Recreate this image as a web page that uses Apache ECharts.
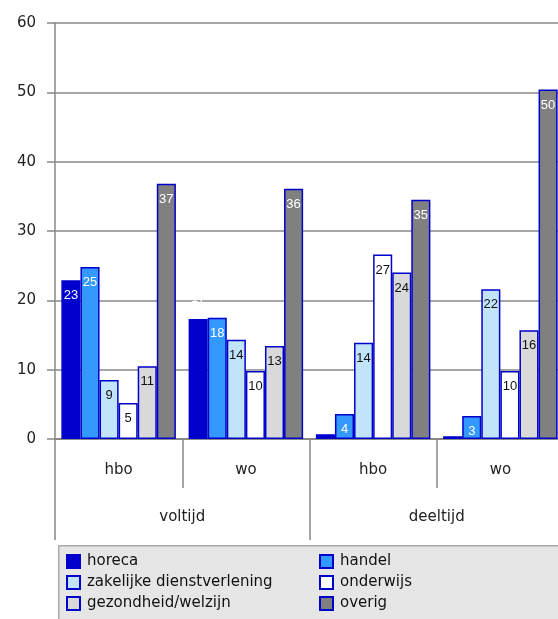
<!DOCTYPE html>
<html><head><meta charset="utf-8">
<script src="https://cdn.jsdelivr.net/npm/echarts@6/dist/echarts.min.js"></script>
<style>html,body{margin:0;padding:0;background:#fff;overflow:hidden}#c{width:564px;height:619px}</style>
</head><body><div id="c"></div>
<script>
const subCategories = ['hbo', 'wo', 'hbo', 'wo'];
const mainCategories = ['voltijd', 'deeltijd'];
const yTicks = [0, 10, 20, 30, 40, 50, 60];
const seriesNames = ['horeca', 'handel', 'zakelijke dienstverlening', 'onderwijs', 'gezondheid/welzijn', 'overig'];
const horeca = [22.9, 17.3, 0.7, 0.4];
const handel = [24.8, 17.5, 3.6, 3.3];
const zakelijke = [8.5, 14.3, 13.9, 21.6];
const onderwijs = [5.2, 9.8, 26.6, 9.8];
const gezondheid = [10.5, 13.4, 24.0, 15.7];
const overig = [36.8, 36.1, 34.5, 50.4];

const seriesData = [horeca, handel, zakelijke, onderwijs, gezondheid, overig];
const fills = ['#0000cc', '#3399ff', '#c2e4f8', '#ffffff', '#d9d9d9', '#808080'];
const labelColors = ['#ffffff', '#ffffff', '#111111', '#111111', '#111111', '#ffffff'];
const FONT = 'DejaVu Sans';
const LFONT = 'Liberation Sans';

const chart = echarts.init(document.getElementById('c'));
const series = seriesData.map((d, i) => ({
  name: seriesNames[i],
  type: 'bar',
  xAxisIndex: 0,
  data: d.map((v, j) => (i === 0 && j === 1)
    ? { value: v, label: { position: 'top', distance: 14 } }
    : v),
  barGap: 0,
  barCategoryGap: '10%',
  itemStyle: { color: fills[i], borderColor: '#0000cc', borderWidth: 1.5 },
  label: {
    show: true,
    position: 'insideTop',
    distance: 9,
    color: labelColors[i],
    fontFamily: LFONT,
    fontSize: 13,
    formatter: p => (i === 0 && p.dataIndex > 1) ? '' : String(Math.round(p.value))
  },
  emphasis: { disabled: true }
}));

chart.setOption({
  animation: false,
  textStyle: { fontFamily: FONT },
  grid: { left: 55, top: 23, right: 0, height: 416 },
  xAxis: [
    {
      type: 'category', data: subCategories, position: 'bottom',
      axisLine: { show: true, lineStyle: { color: '#888', width: 1.5 } },
      axisTick: { show: true, length: 49, lineStyle: { color: '#888', width: 1.5 } },
      axisLabel: { margin: 24, color: '#222', fontSize: 15, fontFamily: FONT },
      splitLine: { show: false }
    },
    {
      type: 'category', data: mainCategories, position: 'bottom',
      axisLine: { show: true, lineStyle: { color: '#888', width: 1.5 } },
      axisTick: { show: true, length: 101, lineStyle: { color: '#888', width: 1.5 } },
      axisLabel: { margin: 71, color: '#222', fontSize: 15, fontFamily: FONT },
      splitLine: { show: false }
    }
  ],
  yAxis: {
    type: 'value', min: yTicks[0], max: yTicks[yTicks.length - 1], interval: 10,
    axisLine: { show: true, lineStyle: { color: '#888', width: 1.5 } },
    axisTick: { show: true, length: 8, lineStyle: { color: '#888', width: 1.5 } },
    axisLabel: { margin: 19, color: '#222', fontSize: 15, fontFamily: FONT },
    splitLine: { show: true, lineStyle: { color: '#888', width: 1.5 } }
  },
  graphic: [{
    type: 'rect', left: 58, top: 545, z: -10,
    shape: { width: 510, height: 80 },
    style: { fill: '#e6e6e6', stroke: '#aaaaaa', lineWidth: 1.5 }
  }],
  legend: [
    {
      orient: 'vertical', left: 66, top: 554, itemWidth: 13, itemHeight: 13, itemGap: 6,
      icon: 'rect', data: [seriesNames[0], seriesNames[2], seriesNames[4]],
      textStyle: { fontSize: 15, color: '#111', fontFamily: FONT, padding: [0, 0, 0, 2] },
      selectedMode: false, padding: 0
    },
    {
      orient: 'vertical', left: 319, top: 554, itemWidth: 13, itemHeight: 13, itemGap: 6,
      icon: 'rect', data: [seriesNames[1], seriesNames[3], seriesNames[5]],
      textStyle: { fontSize: 15, color: '#111', fontFamily: FONT, padding: [0, 0, 0, 2] },
      selectedMode: false, padding: 0
    }
  ],
  series: series
});
</script>
</body></html>
